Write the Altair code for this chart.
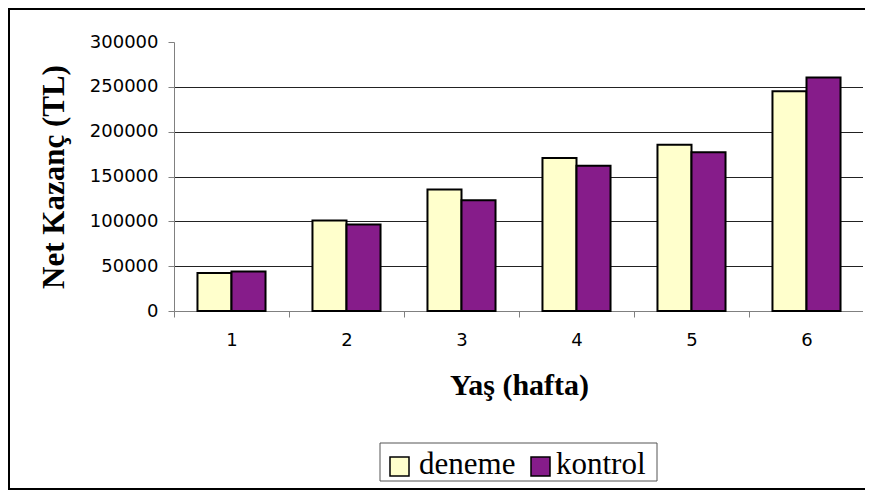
import altair as alt
import pandas as pd

haftalar = ["1", "2", "3", "4", "5", "6"]
deneme = [42500, 101000, 135500, 170500, 185500, 245000]
kontrol = [44000, 96500, 123500, 162000, 177000, 260500]
gruplar = ["deneme", "kontrol"]
renkler = ["#FFFFCC", "#861C8A"]
y_ticks = [0, 50000, 100000, 150000, 200000, 250000, 300000]

rows = []
for i, h in enumerate(haftalar):
    rows.append({"hafta": h, "grup": "deneme", "kazanc": deneme[i]})
    rows.append({"hafta": h, "grup": "kontrol", "kazanc": kontrol[i]})
df = pd.DataFrame(rows)

W, H = 690, 269
SERIF = "Liberation Serif"

one = pd.DataFrame({"a": [0]})
rule = dict(color="black", strokeWidth=2, clip=False)
frame_left = alt.Chart(one).mark_rule(**rule).encode(
    x=alt.value(-165), y=alt.value(-33), y2=alt.value(447)
)
frame_top = alt.Chart(one).mark_rule(**rule).encode(
    x=alt.value(-166), x2=alt.value(700), y=alt.value(-33)
)
frame_bottom = alt.Chart(one).mark_rule(**rule).encode(
    x=alt.value(-166), x2=alt.value(700), y=alt.value(447)
)
cover_right = alt.Chart(one).mark_rule(color="white", strokeWidth=4, clip=False).encode(
    x=alt.value(691), y=alt.value(-31), y2=alt.value(445)
)

# legend (drawn by hand so that the serif label font is honoured)
leg_box = alt.Chart(one).mark_rect(
    filled=False, stroke="#555555", strokeWidth=1, clip=False
).encode(x=alt.value(206), x2=alt.value(483), y=alt.value(401), y2=alt.value(439))
leg_sym1 = alt.Chart(one).mark_rect(
    fill=renkler[0], stroke="black", strokeWidth=1.5, clip=False
).encode(x=alt.value(216), x2=alt.value(235), y=alt.value(415), y2=alt.value(434))
leg_sym2 = alt.Chart(one).mark_rect(
    fill=renkler[1], stroke="black", strokeWidth=1.5, clip=False
).encode(x=alt.value(357), x2=alt.value(376), y=alt.value(415), y2=alt.value(434))
leg_txt1 = alt.Chart(one).mark_text(
    align="left", baseline="alphabetic", font=SERIF, fontSize=31, color="black", clip=False
).encode(x=alt.value(245), y=alt.value(432), text=alt.value(gruplar[0]))
leg_txt2 = alt.Chart(one).mark_text(
    align="left", baseline="alphabetic", font=SERIF, fontSize=31, color="black", clip=False
).encode(x=alt.value(382), y=alt.value(432), text=alt.value(gruplar[1]))

bars = alt.Chart(df).mark_bar(stroke="black", strokeWidth=2).encode(
    x=alt.X(
        "hafta:N",
        sort=haftalar,
        scale=alt.Scale(paddingInner=0, paddingOuter=0),
        axis=alt.Axis(
            title="Yaş (hafta)",
            labelAngle=0,
            tickBand="extent",
            labelFont="DejaVu Sans",
            labelFontSize=18,
            labelColor="black",
            labelPadding=14,
            tickSize=6,
            tickColor="#808080",
            domainColor="#808080",
            titleFont=SERIF,
            titleFontSize=30,
            titleFontWeight="bold",
            titleColor="black",
            titlePadding=21,
            grid=False,
        ),
    ),
    xOffset=alt.XOffset(
        "grup:N", sort=gruplar, scale=alt.Scale(paddingOuter=0.69, paddingInner=0)
    ),
    y=alt.Y(
        "kazanc:Q",
        scale=alt.Scale(domain=[0, 300000], nice=False),
        axis=alt.Axis(
            title="Net Kazanç (TL)",
            values=y_ticks,
            format="d",
            labelFont="DejaVu Sans",
            labelFontSize=18,
            labelColor="black",
            labelPadding=10,
            tickSize=6,
            tickColor="#808080",
            domainColor="#808080",
            grid=True,
            gridColor={"condition": {"test": "datum.value >= 300000 || datum.value <= 0", "value": "transparent"}, "value": "#222222"},
            gridWidth=1,
            titleFont=SERIF,
            titleFontSize=31,
            titleFontWeight="bold",
            titleColor="black",
            titlePadding=19,
        ),
    ),
    color=alt.Color(
        "grup:N",
        sort=gruplar,
        scale=alt.Scale(domain=gruplar, range=renkler),
        legend=None,
    ),
)

chart = alt.layer(
    frame_left, frame_top, frame_bottom, cover_right, bars,
    leg_box, leg_sym1, leg_sym2, leg_txt1, leg_txt2,
).properties(
    width=W,
    height=H,
    autosize=alt.AutoSizeParams(type="none"),
    padding={"left": 166, "top": 34, "right": 1, "bottom": 179},
    background="white",
).configure_view(stroke=None)

chart.save("out.html", embed_options={"renderer": "svg", "actions": False})
